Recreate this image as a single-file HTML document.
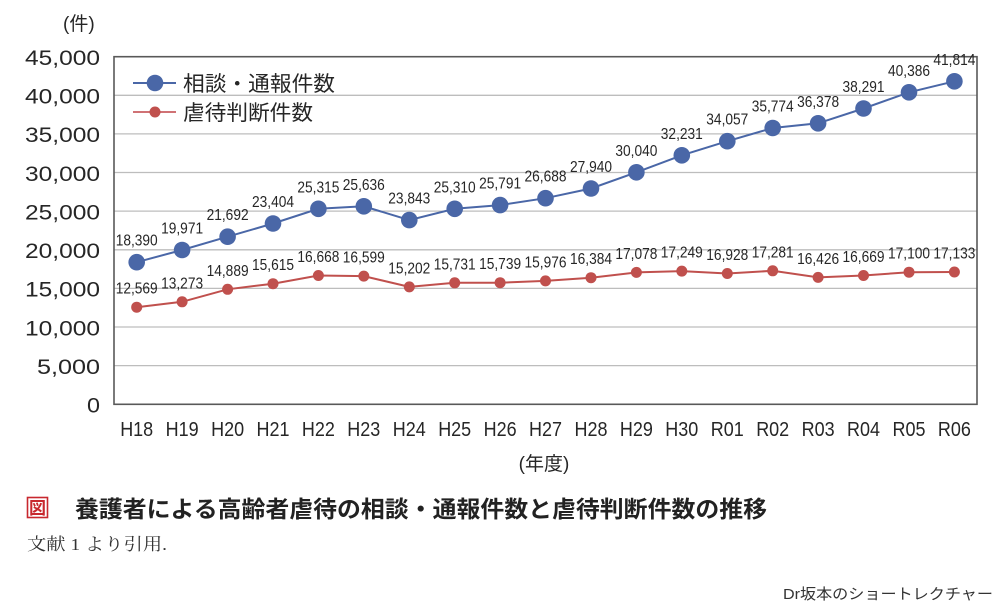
<!DOCTYPE html>
<html><head><meta charset="utf-8"><style>
html,body{margin:0;padding:0;background:#fff;}
svg{display:block;}
text{font-family:"Liberation Sans","Noto Sans CJK JP",sans-serif;fill:#262626;}
</style></head><body>
<svg width="994" height="602" viewBox="0 0 994 602" xmlns="http://www.w3.org/2000/svg">
<rect width="994" height="602" fill="#fff"/>
<!-- gridlines -->
<g stroke="#bdbdbd" stroke-width="1.3">
<line x1="114" y1="95.3" x2="977" y2="95.3"/>
<line x1="114" y1="133.9" x2="977" y2="133.9"/>
<line x1="114" y1="172.5" x2="977" y2="172.5"/>
<line x1="114" y1="211.1" x2="977" y2="211.1"/>
<line x1="114" y1="249.8" x2="977" y2="249.8"/>
<line x1="114" y1="288.4" x2="977" y2="288.4"/>
<line x1="114" y1="327.0" x2="977" y2="327.0"/>
<line x1="114" y1="365.6" x2="977" y2="365.6"/>
</g>
<rect x="114" y="56.7" width="863" height="347.6" fill="none" stroke="#595959" stroke-width="1.6"/>
<!-- y labels -->
<g font-size="21" text-anchor="end">
<text x="100" y="65" textLength="75" lengthAdjust="spacingAndGlyphs">45,000</text>
<text x="100" y="103.6" textLength="75" lengthAdjust="spacingAndGlyphs">40,000</text>
<text x="100" y="142.2" textLength="75" lengthAdjust="spacingAndGlyphs">35,000</text>
<text x="100" y="180.8" textLength="75" lengthAdjust="spacingAndGlyphs">30,000</text>
<text x="100" y="219.4" textLength="75" lengthAdjust="spacingAndGlyphs">25,000</text>
<text x="100" y="258.1" textLength="75" lengthAdjust="spacingAndGlyphs">20,000</text>
<text x="100" y="296.7" textLength="75" lengthAdjust="spacingAndGlyphs">15,000</text>
<text x="100" y="335.3" textLength="75" lengthAdjust="spacingAndGlyphs">10,000</text>
<text x="100" y="373.9" textLength="63" lengthAdjust="spacingAndGlyphs">5,000</text>
<text x="100" y="412.5" textLength="13" lengthAdjust="spacingAndGlyphs">0</text>
</g>
<text x="63" y="30" font-size="19">(件)</text>
<!-- x labels -->
<g font-size="20" text-anchor="middle">
<text x="136.7" y="436" textLength="33" lengthAdjust="spacingAndGlyphs">H18</text>
<text x="182.1" y="436" textLength="33" lengthAdjust="spacingAndGlyphs">H19</text>
<text x="227.6" y="436" textLength="33" lengthAdjust="spacingAndGlyphs">H20</text>
<text x="273.0" y="436" textLength="33" lengthAdjust="spacingAndGlyphs">H21</text>
<text x="318.4" y="436" textLength="33" lengthAdjust="spacingAndGlyphs">H22</text>
<text x="363.8" y="436" textLength="33" lengthAdjust="spacingAndGlyphs">H23</text>
<text x="409.3" y="436" textLength="33" lengthAdjust="spacingAndGlyphs">H24</text>
<text x="454.7" y="436" textLength="33" lengthAdjust="spacingAndGlyphs">H25</text>
<text x="500.1" y="436" textLength="33" lengthAdjust="spacingAndGlyphs">H26</text>
<text x="545.5" y="436" textLength="33" lengthAdjust="spacingAndGlyphs">H27</text>
<text x="591.0" y="436" textLength="33" lengthAdjust="spacingAndGlyphs">H28</text>
<text x="636.4" y="436" textLength="33" lengthAdjust="spacingAndGlyphs">H29</text>
<text x="681.8" y="436" textLength="33" lengthAdjust="spacingAndGlyphs">H30</text>
<text x="727.3" y="436" textLength="33" lengthAdjust="spacingAndGlyphs">R01</text>
<text x="772.7" y="436" textLength="33" lengthAdjust="spacingAndGlyphs">R02</text>
<text x="818.1" y="436" textLength="33" lengthAdjust="spacingAndGlyphs">R03</text>
<text x="863.5" y="436" textLength="33" lengthAdjust="spacingAndGlyphs">R04</text>
<text x="909.0" y="436" textLength="33" lengthAdjust="spacingAndGlyphs">R05</text>
<text x="954.4" y="436" textLength="33" lengthAdjust="spacingAndGlyphs">R06</text>
</g>
<text x="544" y="470" font-size="19" text-anchor="middle">(年度)</text>
<!-- red series -->
<polyline fill="none" stroke="#c0504d" stroke-width="2" points="136.7,307.2 182.1,301.8 227.6,289.3 273.0,283.7 318.4,275.5 363.8,276.1 409.3,286.9 454.7,282.8 500.1,282.7 545.5,280.9 591.0,277.7 636.4,272.4 681.8,271.1 727.3,273.5 772.7,270.8 818.1,277.4 863.5,275.5 909.0,272.2 954.4,272.0"/>
<g fill="#c0504d">
<circle cx="136.7" cy="307.2" r="5.5"/><circle cx="182.1" cy="301.8" r="5.5"/><circle cx="227.6" cy="289.3" r="5.5"/><circle cx="273.0" cy="283.7" r="5.5"/><circle cx="318.4" cy="275.5" r="5.5"/><circle cx="363.8" cy="276.1" r="5.5"/><circle cx="409.3" cy="286.9" r="5.5"/><circle cx="454.7" cy="282.8" r="5.5"/><circle cx="500.1" cy="282.7" r="5.5"/><circle cx="545.5" cy="280.9" r="5.5"/><circle cx="591.0" cy="277.7" r="5.5"/><circle cx="636.4" cy="272.4" r="5.5"/><circle cx="681.8" cy="271.1" r="5.5"/><circle cx="727.3" cy="273.5" r="5.5"/><circle cx="772.7" cy="270.8" r="5.5"/><circle cx="818.1" cy="277.4" r="5.5"/><circle cx="863.5" cy="275.5" r="5.5"/><circle cx="909.0" cy="272.2" r="5.5"/><circle cx="954.4" cy="272.0" r="5.5"/>
</g>
<!-- blue series -->
<polyline fill="none" stroke="#4a67a7" stroke-width="2" points="136.7,262.2 182.1,250.0 227.6,236.7 273.0,223.5 318.4,208.8 363.8,206.3 409.3,220.1 454.7,208.8 500.1,205.1 545.5,198.2 591.0,188.5 636.4,172.3 681.8,155.3 727.3,141.2 772.7,128.0 818.1,123.3 863.5,108.5 909.0,92.3 954.4,81.3"/>
<g fill="#4a67a7">
<circle cx="136.7" cy="262.2" r="8.3"/><circle cx="182.1" cy="250.0" r="8.3"/><circle cx="227.6" cy="236.7" r="8.3"/><circle cx="273.0" cy="223.5" r="8.3"/><circle cx="318.4" cy="208.8" r="8.3"/><circle cx="363.8" cy="206.3" r="8.3"/><circle cx="409.3" cy="220.1" r="8.3"/><circle cx="454.7" cy="208.8" r="8.3"/><circle cx="500.1" cy="205.1" r="8.3"/><circle cx="545.5" cy="198.2" r="8.3"/><circle cx="591.0" cy="188.5" r="8.3"/><circle cx="636.4" cy="172.3" r="8.3"/><circle cx="681.8" cy="155.3" r="8.3"/><circle cx="727.3" cy="141.2" r="8.3"/><circle cx="772.7" cy="128.0" r="8.3"/><circle cx="818.1" cy="123.3" r="8.3"/><circle cx="863.5" cy="108.5" r="8.3"/><circle cx="909.0" cy="92.3" r="8.3"/><circle cx="954.4" cy="81.3" r="8.3"/>
</g>
<!-- blue labels -->
<g font-size="16" text-anchor="middle">
<text x="136.7" y="245.7" textLength="42" lengthAdjust="spacingAndGlyphs">18,390</text>
<text x="182.1" y="233.5" textLength="42" lengthAdjust="spacingAndGlyphs">19,971</text>
<text x="227.6" y="220.2" textLength="42" lengthAdjust="spacingAndGlyphs">21,692</text>
<text x="273.0" y="207.0" textLength="42" lengthAdjust="spacingAndGlyphs">23,404</text>
<text x="318.4" y="192.3" textLength="42" lengthAdjust="spacingAndGlyphs">25,315</text>
<text x="363.8" y="189.8" textLength="42" lengthAdjust="spacingAndGlyphs">25,636</text>
<text x="409.3" y="203.6" textLength="42" lengthAdjust="spacingAndGlyphs">23,843</text>
<text x="454.7" y="192.3" textLength="42" lengthAdjust="spacingAndGlyphs">25,310</text>
<text x="500.1" y="188.6" textLength="42" lengthAdjust="spacingAndGlyphs">25,791</text>
<text x="545.5" y="181.7" textLength="42" lengthAdjust="spacingAndGlyphs">26,688</text>
<text x="591.0" y="172.0" textLength="42" lengthAdjust="spacingAndGlyphs">27,940</text>
<text x="636.4" y="155.8" textLength="42" lengthAdjust="spacingAndGlyphs">30,040</text>
<text x="681.8" y="138.8" textLength="42" lengthAdjust="spacingAndGlyphs">32,231</text>
<text x="727.3" y="124.7" textLength="42" lengthAdjust="spacingAndGlyphs">34,057</text>
<text x="772.7" y="111.5" textLength="42" lengthAdjust="spacingAndGlyphs">35,774</text>
<text x="818.1" y="106.8" textLength="42" lengthAdjust="spacingAndGlyphs">36,378</text>
<text x="863.5" y="92.0" textLength="42" lengthAdjust="spacingAndGlyphs">38,291</text>
<text x="909.0" y="75.8" textLength="42" lengthAdjust="spacingAndGlyphs">40,386</text>
<text x="954.4" y="64.8" textLength="42" lengthAdjust="spacingAndGlyphs">41,814</text>
</g>
<!-- red labels -->
<g font-size="16" text-anchor="middle">
<text x="136.7" y="293.7" textLength="42" lengthAdjust="spacingAndGlyphs">12,569</text>
<text x="182.1" y="288.3" textLength="42" lengthAdjust="spacingAndGlyphs">13,273</text>
<text x="227.6" y="275.8" textLength="42" lengthAdjust="spacingAndGlyphs">14,889</text>
<text x="273.0" y="270.2" textLength="42" lengthAdjust="spacingAndGlyphs">15,615</text>
<text x="318.4" y="262.0" textLength="42" lengthAdjust="spacingAndGlyphs">16,668</text>
<text x="363.8" y="262.6" textLength="42" lengthAdjust="spacingAndGlyphs">16,599</text>
<text x="409.3" y="273.4" textLength="42" lengthAdjust="spacingAndGlyphs">15,202</text>
<text x="454.7" y="269.3" textLength="42" lengthAdjust="spacingAndGlyphs">15,731</text>
<text x="500.1" y="269.2" textLength="42" lengthAdjust="spacingAndGlyphs">15,739</text>
<text x="545.5" y="267.4" textLength="42" lengthAdjust="spacingAndGlyphs">15,976</text>
<text x="591.0" y="264.2" textLength="42" lengthAdjust="spacingAndGlyphs">16,384</text>
<text x="636.4" y="258.9" textLength="42" lengthAdjust="spacingAndGlyphs">17,078</text>
<text x="681.8" y="257.6" textLength="42" lengthAdjust="spacingAndGlyphs">17,249</text>
<text x="727.3" y="260.0" textLength="42" lengthAdjust="spacingAndGlyphs">16,928</text>
<text x="772.7" y="257.3" textLength="42" lengthAdjust="spacingAndGlyphs">17,281</text>
<text x="818.1" y="263.9" textLength="42" lengthAdjust="spacingAndGlyphs">16,426</text>
<text x="863.5" y="262.0" textLength="42" lengthAdjust="spacingAndGlyphs">16,669</text>
<text x="909.0" y="258.7" textLength="42" lengthAdjust="spacingAndGlyphs">17,100</text>
<text x="954.4" y="258.5" textLength="42" lengthAdjust="spacingAndGlyphs">17,133</text>
</g>
<!-- legend -->
<line x1="133" y1="83" x2="176" y2="83" stroke="#4a67a7" stroke-width="2"/>
<circle cx="155" cy="83" r="8.3" fill="#4a67a7"/>
<text x="183" y="91" font-size="21" textLength="152" lengthAdjust="spacingAndGlyphs">相談・通報件数</text>
<line x1="133" y1="112" x2="176" y2="112" stroke="#d07275" stroke-width="2"/>
<circle cx="155" cy="112" r="5.5" fill="#c0504d"/>
<text x="183" y="120" font-size="21" textLength="130" lengthAdjust="spacingAndGlyphs">虐待判断件数</text>
<!-- caption -->
<rect x="27.5" y="497.5" width="20" height="20" fill="#fff" stroke="#c8282e" stroke-width="1.6"/>
<text x="37.5" y="514" font-size="17" text-anchor="middle" font-weight="bold" style="fill:#c8282e">図</text>
<text x="75" y="517" font-size="23" font-weight="bold" textLength="692" lengthAdjust="spacingAndGlyphs" style="fill:#222">養護者による高齢者虐待の相談・通報件数と虐待判断件数の推移</text>
<text x="27" y="550" font-size="17" textLength="140" lengthAdjust="spacingAndGlyphs" style="font-family:'Liberation Serif','Noto Serif CJK JP','Noto Serif CJK SC',serif;fill:#333">文献 1 より引用.</text>
<text x="783" y="599" font-size="15" textLength="210" lengthAdjust="spacingAndGlyphs" style="fill:#333">Dr坂本のショートレクチャー</text>
</svg>
</body></html>
